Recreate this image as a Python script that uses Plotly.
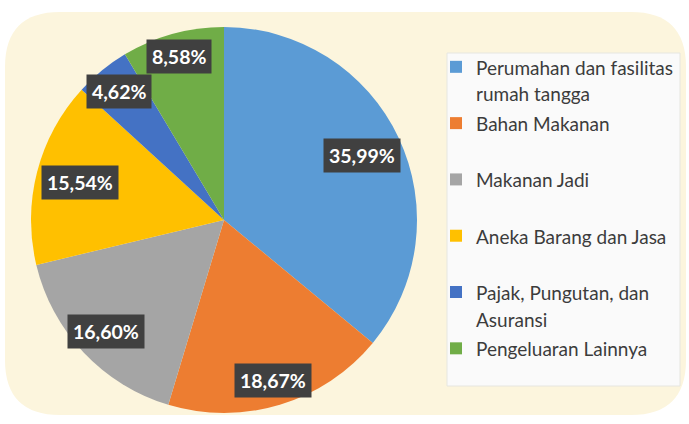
import numpy as np
import plotly.graph_objects as go

# ---- data ----
categories = [
    "Perumahan dan fasilitas rumah tangga",
    "Bahan Makanan",
    "Makanan Jadi",
    "Aneka Barang dan Jasa",
    "Pajak, Pungutan, dan Asuransi",
    "Pengeluaran Lainnya",
]
legend_lines = [
    ["Perumahan dan fasilitas", "rumah tangga"],
    ["Bahan Makanan", ""],
    ["Makanan Jadi", ""],
    ["Aneka Barang dan Jasa", ""],
    ["Pajak, Pungutan, dan", "Asuransi"],
    ["Pengeluaran Lainnya", ""],
]
values = [35.99, 18.67, 16.60, 15.54, 4.62, 8.58]
colors = ["#5B9BD5", "#ED7D31", "#A5A5A5", "#FFC000", "#4472C4", "#70AD47"]

# ---- layout geometry (pixels) ----
W, H = 689, 424
cx, cy, R = 224, 220, 193
label_r = [0.79, 0.87, 0.84, 0.77, 0.86, 0.88]

FONT = "Lato"

def fmt(v):
    return f"{v:.2f}".replace(".", ",") + "%"

# legend text: visible font 19px, line spacing driven by the larger legend font
legend_labels = [
    "<br>".join(f"<span style='font-size:19px'>{ln}</span>" if ln else " " for ln in lines)
    for lines in legend_lines
]

fig = go.Figure()
fig.add_trace(go.Pie(
    labels=legend_labels,
    values=values,
    sort=False,
    direction="clockwise",
    rotation=0,
    marker=dict(colors=colors, line=dict(width=0)),
    textinfo="none",
    hovertext=categories,
    hoverinfo="text+value",
    domain=dict(x=[(cx - R) / W, (cx + R) / W], y=[1 - (cy + R) / H, 1 - (cy - R) / H]),
))

# label annotations with dark boxes, positioned from slice mid-angles
total = sum(values)
cum = np.cumsum([0] + values[:-1])
annotations = []
for v, c0, rf in zip(values, cum, label_r):
    ang = np.deg2rad((c0 + v / 2) / total * 360)
    px = cx + rf * R * np.sin(ang)
    py = cy - rf * R * np.cos(ang)
    annotations.append(dict(
        x=px / W, y=1 - py / H, xref="paper", yref="paper",
        text=f"<b>{fmt(v)}</b>", showarrow=False,
        font=dict(family=FONT, size=19.5, color="white"),
        bgcolor="#404040", borderpad=5,
        xanchor="center", yanchor="middle",
    ))

def rounded_rect(x0, y0, x1, y1, r):
    def p(x, y):
        return f"{x / W:.5f},{1 - y / H:.5f}"
    return (f"M {p(x0 + r, y0)} L {p(x1 - r, y0)} Q {p(x1, y0)} {p(x1, y0 + r)} "
            f"L {p(x1, y1 - r)} Q {p(x1, y1)} {p(x1 - r, y1)} "
            f"L {p(x0 + r, y1)} Q {p(x0, y1)} {p(x0, y1 - r)} "
            f"L {p(x0, y0 + r)} Q {p(x0, y0)} {p(x0 + r, y0)} Z")

shapes = [
    dict(type="path", path=rounded_rect(5, 12, 686, 415, 55), xref="paper", yref="paper",
         fillcolor="#FCF5DD", line=dict(width=0), layer="below"),
    dict(type="rect", x0=447 / W, x1=680 / W, y0=1 - 386 / H, y1=1 - 53 / H,
         xref="paper", yref="paper", fillcolor="#FAFAFA",
         line=dict(color="#E6E6E0", width=1), layer="below"),
]

fig.update_layout(
    width=W, height=H,
    margin=dict(l=0, r=0, t=0, b=0),
    paper_bgcolor="white",
    plot_bgcolor="white",
    showlegend=True,
    legend=dict(
        x=436 / W, y=1 - 47 / H, xanchor="left", yanchor="top",
        bgcolor="rgba(0,0,0,0)", borderwidth=0,
        font=dict(family=FONT, size=20.5, color="#3C3C3C"),
        valign="top", itemwidth=30,
        traceorder="normal",
    ),
    annotations=annotations,
    shapes=shapes,
    font=dict(family=FONT),
)

fig.write_html("out.html", config={"displayModeBar": False},
               post_script="document.body.style.margin='0px';")
